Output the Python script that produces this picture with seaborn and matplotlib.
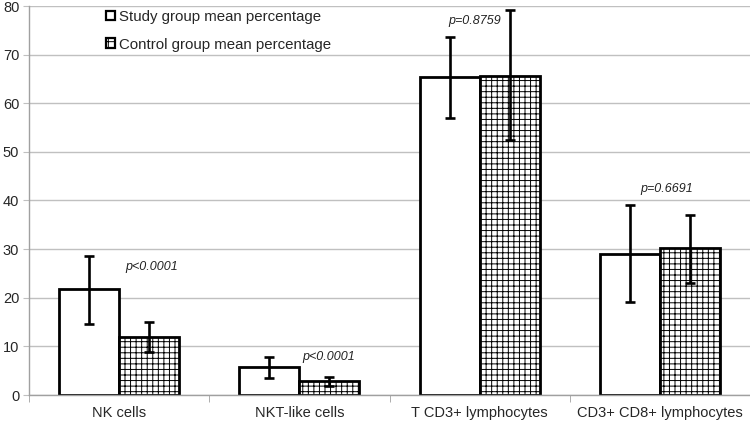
import numpy as np
import pandas as pd
from matplotlib import pyplot as plt
from matplotlib.patches import Patch
import seaborn as sns

# data
cells = ["NK cells", "NKT-like cells", "T CD3+ lymphocytes", "CD3+ CD8+ lymphocytes"]
groups = ["Study group mean percentage", "Control group mean percentage"]
study_mean = [21.7, 5.7, 65.4, 29.0]
study_low = [14.5, 3.4, 56.9, 19.1]
study_high = [28.6, 7.8, 73.6, 39.1]
control_mean = [11.9, 2.9, 65.7, 30.2]
control_low = [8.8, 1.9, 52.5, 23.0]
control_high = [15.1, 3.7, 79.2, 37.0]
p_labels = ["p<0.0001", "p<0.0001", "p=0.8759", "p=0.6691"]
p_pos = [(0.18, 26.3), (1.16, 7.8), (1.97, 77.0), (3.04, 42.4)]

df = pd.DataFrame({
    "cell": cells * 2,
    "group": [groups[0]] * 4 + [groups[1]] * 4,
    "value": study_mean + control_mean,
})

sns.set_style("white")
plt.rcParams['font.family'] = ['Liberation Sans', 'DejaVu Sans']
plt.rcParams['hatch.linewidth'] = 0.7

fig = plt.figure(figsize=(7.5, 4.23), dpi=100)
ax = fig.add_axes([29 / 750, 1 - 395 / 423, 721 / 750, 389 / 423])

sns.barplot(data=df, x="cell", y="value", hue="group", order=cells,
            hue_order=groups, errorbar=None, width=2 / 3, gap=0,
            palette=["white", "white"], edgecolor="black", linewidth=2.0,
            legend=False, ax=ax, zorder=2)

lows = [study_low, control_low]
highs = [study_high, control_high]
means = [study_mean, control_mean]
bar_conts = list(ax.containers)
for k, cont in enumerate(bar_conts):
    xs = []
    for bar in cont:
        xs.append(bar.get_x() + bar.get_width() / 2)
        if k == 1:
            bar.set_hatch("+++")
    m = np.array(means[k])
    yerr = [m - np.array(lows[k]), np.array(highs[k]) - m]
    ax.errorbar(xs, m, yerr=yerr, fmt="none", ecolor="black",
                elinewidth=1.9, capsize=3.5, capthick=1.9, zorder=3)

for lab, (px, py) in zip(p_labels, p_pos):
    ax.text(px, py, lab, ha="center", va="center", fontsize=9,
            fontstyle="italic", color="#222222")

ax.set_xlim(-0.5, 3.5)
ax.set_ylim(0, 80)
ax.set_yticks(range(0, 81, 10))
ax.set_xlabel("")
ax.set_ylabel("")
ax.yaxis.grid(True, color="#c0c0c0", linewidth=1)
ax.set_axisbelow(True)
ax.set_xticks(range(4))
ax.set_xticks(np.arange(-0.5, 4, 1), minor=True)
ax.tick_params(axis="x", which="major", length=0, pad=8, labelsize=10.5)
ax.tick_params(axis="x", which="minor", length=5, color="#a0a0a0", direction="out")
ax.tick_params(axis="y", length=4, color="#c0c0c0", direction="out", pad=3, labelsize=10.5)
ax.tick_params(axis="both", bottom=True, left=True, which="both")
for s in ["top", "right"]:
    ax.spines[s].set_visible(False)
for s in ["left", "bottom"]:
    ax.spines[s].set_color("#a0a0a0")
    ax.spines[s].set_linewidth(1)

handles = [Patch(facecolor="white", edgecolor="black", linewidth=1.6),
           Patch(facecolor="white", edgecolor="black", linewidth=1.6, hatch="+")]
fig.legend(handles, groups, loc="upper left", bbox_to_anchor=(106 / 750, 1 - 10 / 423),
           frameon=False, fontsize=10.8, handlelength=0.6, handleheight=0.6,
           handletextpad=0.25, labelspacing=0.9, borderpad=0, borderaxespad=0)

plt.savefig("out.png", dpi=100)
